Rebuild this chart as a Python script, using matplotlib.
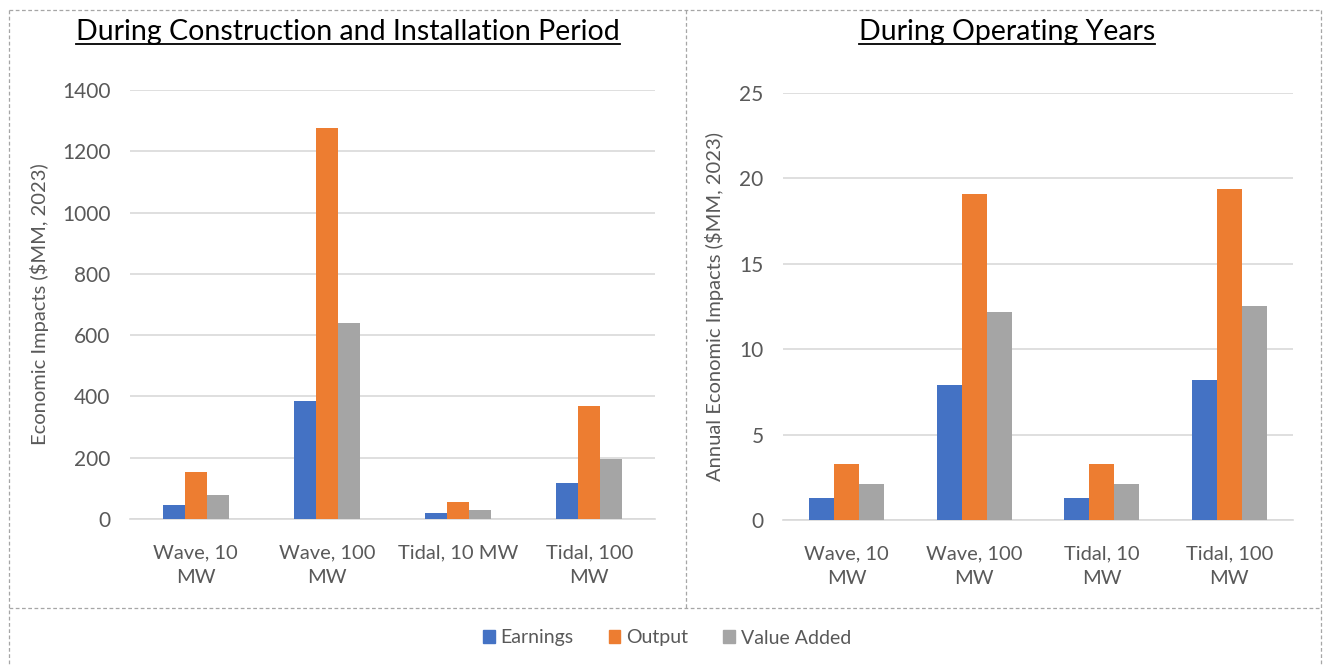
#Economic impacts of wave and tidal projects
#two bar charts side by side, shared legend at the bottom
import matplotlib.pyplot as plt
import numpy as np
from matplotlib.lines import Line2D
from matplotlib.patches import Patch

plt.rcParams['font.family'] = ['Lato', 'DejaVu Sans']

#Data
categories = ["Wave, 10\nMW", "Wave, 100\nMW", "Tidal, 10 MW", "Tidal, 100\nMW"]
categories_op = ["Wave, 10\nMW", "Wave, 100\nMW", "Tidal, 10\nMW", "Tidal, 100\nMW"]
series = ["Earnings", "Output", "Value Added"]

#During construction ($MM)
earnings_c = [45, 385, 20, 118]
output_c = [153, 1275, 55, 370]
value_c = [78, 640, 30, 197]

#During operating years ($MM per year)
earnings_o = [1.3, 7.9, 1.3, 8.2]
output_o = [3.3, 19.1, 3.3, 19.4]
value_o = [2.1, 12.2, 2.1, 12.5]

colors = ["#4472C4", "#ED7D31", "#A5A5A5"]
textc = "#595959"

W, H = 1325, 666
fig = plt.figure(figsize=(W / 100, H / 100), dpi=100)

def px(x0, y0, x1, y1):
    #pixel box (from top left) -> figure fraction
    return [x0 / W, 1 - y1 / H, (x1 - x0) / W, (y1 - y0) / H]

ax1 = fig.add_axes(px(130, 90, 655, 519))
ax2 = fig.add_axes(px(783, 93, 1293, 520))


def draw(ax, cats, data, ymax, step, bw, ylabel):
    x = np.arange(len(cats))
    for i, vals in enumerate(data):
        ax.bar(x + (i - 1) * bw, vals, bw, color=colors[i], zorder=3)
    ax.set_xlim(-0.5, len(cats) - 0.5)
    ax.set_ylim(0, ymax)
    ax.set_yticks(np.arange(0, ymax + step / 2, step))
    ax.set_xticks(x)
    ax.set_xticklabels(cats, fontsize=14.5, color=textc, linespacing=1.55)
    ax.tick_params(axis='y', labelsize=15, labelcolor=textc, length=0, pad=14)
    ax.tick_params(axis='x', length=0, pad=18)
    ax.grid(axis='y', color="#D9D9D9", linewidth=1.2, zorder=0)
    for s in ["top", "right", "left"]:
        ax.spines[s].set_visible(False)
    ax.spines["bottom"].set_color("#D9D9D9")
    ax.spines["bottom"].set_linewidth(1.2)
    ax.set_ylabel(ylabel, fontsize=14.5, color=textc)


draw(ax1, categories, [earnings_c, output_c, value_c], 1400, 200, 0.168,
     "Economic Impacts (\\$MM, 2023)")
draw(ax2, categories_op, [earnings_o, output_o, value_o], 25, 5, 0.196,
     "Annual Economic Impacts (\\$MM, 2023)")
ax1.yaxis.set_label_coords(-0.155, 0.5)
ax2.yaxis.set_label_coords(-0.115, 0.5)

#titles with underline
t1 = fig.text(348 / W, 1 - 32 / H, "During Construction and Installation Period",
              ha='center', va='center', fontsize=20.5, color="#000000")
t2 = fig.text(1007 / W, 1 - 32 / H, "During Operating Years",
              ha='center', va='center', fontsize=20.5, color="#000000")
fig.canvas.draw()
r = fig.canvas.get_renderer()
for t in [t1, t2]:
    bb = t.get_window_extent(r).transformed(fig.transFigure.inverted())
    fig.add_artist(Line2D([bb.x0, bb.x1], [bb.y0 + 0.002, bb.y0 + 0.002],
                          transform=fig.transFigure, color="#000000", lw=1.3))

#dashed frames
dash = dict(color="#A6A6A6", lw=0.9, linestyle=(0, (3, 2)))
def seg(x0, y0, x1, y1):
    fig.add_artist(Line2D([x0 / W, x1 / W], [1 - y0 / H, 1 - y1 / H],
                          transform=fig.transFigure, **dash))
seg(9, 10, 1321, 10)
seg(9, 10, 9, 666)
seg(1321, 10, 1321, 666)
seg(686, 10, 686, 608)
seg(9, 608, 1321, 608)

#legend
handles = [Patch(color=c, label=s) for c, s in zip(colors, series)]
fig.legend(handles=handles, loc='center', bbox_to_anchor=(667 / W, 1 - 638 / H),
           ncol=3, frameon=False, fontsize=14, labelcolor=textc,
           handlelength=0.6, handleheight=0.6, handletextpad=0.3, columnspacing=1.8)

plt.savefig("out.png", dpi=100, facecolor="white")
